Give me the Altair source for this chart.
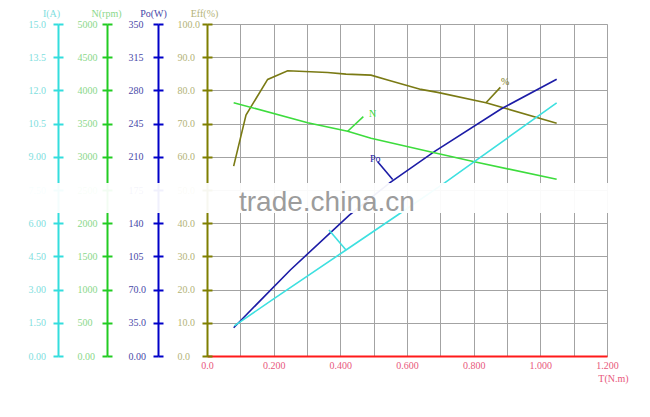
import altair as alt
import pandas as pd

# ---- data ----
T_EFF = [0.080, 0.117, 0.182, 0.242, 0.362, 0.417, 0.492, 0.542, 0.642, 0.692, 0.837, 1.049]
EFF = [57.2, 72.6, 83.3, 85.9, 85.4, 84.9, 84.6, 83.1, 80.3, 79.4, 76.3, 70.1]

T_N = [0.080, 0.302, 0.422, 0.492, 0.682, 0.802, 1.049]
N_RPM = [3815, 3514, 3385, 3279, 3062, 2926, 2661]

T_PO = [0.080, 0.250, 0.427, 0.549, 0.682, 0.882, 1.049]
PO_W = [29.8, 90.7, 148.6, 182.7, 215.4, 260.4, 291.7]

T_I = [0.082, 0.200, 0.417, 0.572, 0.714, 0.802, 1.049]
I_A = [1.36, 2.58, 4.79, 6.37, 7.83, 8.78, 11.44]

# leader lines (curve point -> label) and label positions
PTR_EFF = [(0.837, 76.3), (0.880, 80.9)]
LBL_EFF = (0.882, 82.5, "%")
PTR_N = [(0.422, 3385), (0.469, 3604)]
LBL_N = (0.486, 3645, "N")
PTR_PO = [(0.557, 186.0), (0.512, 204.8)]
LBL_PO = (0.489, 207.7, "Po")
PTR_I = [(0.417, 4.79), (0.366, 5.69)]

X_TICKS = [0.0, 0.1, 0.2, 0.3, 0.4, 0.5, 0.6, 0.7, 0.8, 0.9, 1.0, 1.1, 1.2]
EFF_TICKS = [0, 10, 20, 30, 40, 50, 60, 70, 80, 90, 100]
PO_TICKS = [0, 35, 70, 105, 140, 175, 210, 245, 280, 315, 350]
N_TICKS = [0, 500, 1000, 1500, 2000, 2500, 3000, 3500, 4000, 4500, 5000]
I_TICKS = [0, 1.5, 3.0, 4.5, 6.0, 7.5, 9.0, 10.5, 12.0, 13.5, 15.0]

SERIF = "Liberation Serif"

X = alt.X(
    "T:Q",
    scale=alt.Scale(domain=[0, 1.2], nice=False, zero=False),
    axis=alt.Axis(
        values=X_TICKS, grid=True, gridColor="#a3a3a3", gridWidth=1,
        ticks=False, domainColor="#ff1a1a", domainWidth=2,
        labelExpr="abs(round(datum.value*10)) % 2 == 1 ? '' : (datum.value == 0 ? '0.0' : format(datum.value, '.3f'))",
        labelColor="#e8587c", labelFont=SERIF, labelFontSize=10, labelPadding=4,
        labelFlush=False, labelOverlap=False,
        title="T(N.m)", titleColor="#e8587c", titleFont=SERIF, titleFontSize=10,
        titleFontWeight="normal", titleX=406, titleY=25, titleAlign="center",
        titleBaseline="alphabetic",
    ),
)


def make_df(ts, vs, ptr):
    rows = [{"T": t, "v": v, "part": "curve"} for t, v in zip(ts, vs)]
    rows += [{"T": t, "v": v, "part": "ptr"} for t, v in ptr]
    return pd.DataFrame(rows)


def measure(ts, vs, ptr, lbl, domain, ticks, label_expr, title, title_x, offset,
            line_color, axis_color, label_color, grid=False):
    df = make_df(ts, vs, ptr)
    axis_kw = dict(
        orient="left", offset=offset, values=ticks, labelExpr=label_expr,
        domainColor=axis_color, domainWidth=2, tickColor=axis_color, tickWidth=2,
        tickSize=5, labelColor=label_color, labelFont=SERIF, labelFontSize=10,
        labelAlign="left", labelPadding=25, labelBaseline="middle",
        labelFlush=False, labelOverlap=False,
        title=title, titleAngle=0, titleColor=label_color, titleFont=SERIF,
        titleFontSize=10, titleFontWeight="normal", titleX=title_x, titleY=-8,
        titleAlign="center", titleBaseline="alphabetic",
        grid=grid,
    )
    if grid:
        axis_kw.update(gridColor="#a3a3a3", gridWidth=1)
    Y = alt.Y("v:Q", scale=alt.Scale(domain=domain, nice=False, zero=False),
              axis=alt.Axis(**axis_kw))
    line = alt.Chart(df).mark_line(color=line_color, strokeWidth=1.6).encode(
        x=X, y=Y, detail="part:N")
    layers = [line]
    if lbl is not None:
        ldf = pd.DataFrame([{"T": lbl[0], "v": lbl[1], "txt": lbl[2]}])
        txt = alt.Chart(ldf).mark_text(
            color=line_color, font=SERIF, fontSize=10, align="left", baseline="middle"
        ).encode(x=X, y=Y, text="txt:N")
        layers.append(txt)
    main = alt.layer(*layers)
    # second axis, only ticks, to make crossing tick marks
    tick_y = alt.Y("v:Q", scale=alt.Scale(domain=domain, nice=False, zero=False),
                   axis=alt.Axis(orient="left", offset=offset - 5, values=ticks,
                                 domain=False, labels=False, tickColor=axis_color,
                                 tickWidth=2, tickSize=5, title="", grid=False))
    ticks_layer = alt.Chart(df).mark_point(opacity=0).encode(x=X, y=tick_y)
    return main, ticks_layer


SIG3 = "datum.value == 0 ? '0.00' : format(datum.value, '.3r')"
EFF_FMT = "format(datum.value, '.1f')"

eff_m, eff_t = measure(T_EFF, EFF, PTR_EFF, LBL_EFF, [0, 100], EFF_TICKS, EFF_FMT,
                       "Eff(%)", -3, 0, "#7a7a14", "#7f7f00", "#b3b377", grid=True)
po_m, po_t = measure(T_PO, PO_W, PTR_PO, LBL_PO, [0, 350], PO_TICKS, SIG3,
                     "Po(W)", -5, 49, "#1c1ca6", "#0000c8", "#4848a8")
n_m, n_t = measure(T_N, N_RPM, PTR_N, LBL_N, [0, 5000], N_TICKS, SIG3,
                   "N(rpm)", -1, 100, "#3ddc3d", "#22cc22", "#8ad88a")
i_m, i_t = measure(T_I, I_A, PTR_I, None, [0, 15], I_TICKS, SIG3,
                   "I(A)", -7, 149, "#3ee0e0", "#33dddd", "#80dede")

band = alt.Chart(pd.DataFrame({"k": [0]})).mark_rect(color="white", opacity=0.94).encode(
    x=alt.value(-207), x2=alt.value(410), y=alt.value(159), y2=alt.value(189))
wm = alt.Chart(pd.DataFrame({"k": [0]})).mark_text(
    text="trade.china.cn", font="Liberation Sans", fontSize=28, color="#9c9c9c",
    align="left", baseline="alphabetic").encode(x=alt.value(32), y=alt.value(187))

chart = alt.layer(
    eff_t, po_t, n_t, i_t, eff_m, po_m, n_m, i_m, band, wm
).resolve_scale(y="independent").properties(
    width=400, height=332,
    autosize=alt.AutoSizeParams(type="none"),
    padding={"left": 199, "top": 16, "right": 35, "bottom": 53},
).configure_view(stroke=None).configure(background="white")

chart.save("out.html", embed_options={"renderer": "svg", "actions": False})
